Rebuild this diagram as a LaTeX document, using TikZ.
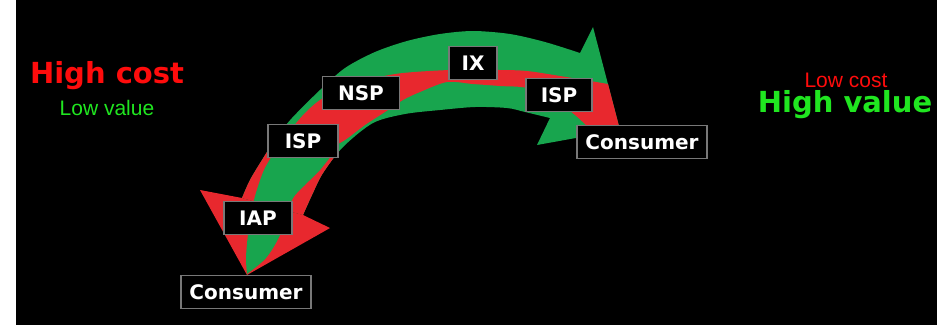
\documentclass[tikz,border=0pt]{standalone}
\usepackage{fontspec}
\setmainfont{Liberation Sans}
\newfontfamily\heavyfont{DejaVu Sans}
\usetikzlibrary{positioning}

\definecolor{arrowgreen}{RGB}{24,165,78}
\definecolor{arrowred}{RGB}{232,40,46}
\definecolor{textred}{RGB}{255,12,12}
\definecolor{textgreen}{RGB}{32,230,32}
\definecolor{boxgray}{RGB}{120,120,120}

\tikzset{
  hop/.style={draw=boxgray, line width=1.5pt, fill=black, text=white,
    font=\heavyfont\bfseries\fontsize{20}{22}\selectfont,
    minimum height=33pt, inner xsep=8pt, inner ysep=0pt},
  bigword/.style={anchor=base, font=\heavyfont\bfseries\fontsize{29}{30}\selectfont},
  smallword/.style={anchor=base, font=\fontsize{21}{22}\selectfont}
}

\begin{document}
\begin{tikzpicture}[x=1pt, y=-1pt]
  \fill[white] (0,0) rectangle (937,325);
  \fill[black] (16,0) rectangle (937,325);
  \useasboundingbox (0,0) rectangle (937,325);

  % green arrow, whole band with its head
  \fill[arrowgreen] plot[smooth] coordinates {(242,198) (250,180) (262,160) (276,138) (292,118) (320,90) (345,68) (375,52) (407,41) (440,34) (473,31) (510,34) (545,42) (580,53)}
        -- (593,27) -- (620,130) -- (537,145)
        -- plot[smooth] coordinates {(550,118) (525,112) (507,108) (475,107) (440,110) (405,114) (373,123) (343,147) (323,173) (312,195) (303,215)} -- cycle;

  % red arrow, lower part with its head
  \begin{scope}
    \clip (200,98) -- (420,183) -- (420,330) -- (100,330) -- (100,98) -- cycle;
    \fill[arrowred] plot[smooth] coordinates {(242,198) (250,180) (262,160) (276,138) (292,118) (320,90) (345,68) (375,52) (407,41) (440,34) (473,31) (510,34) (545,42) (580,53)}
          -- plot[smooth] coordinates {(550,118) (525,112) (507,108) (475,107) (440,110) (405,114) (373,123) (343,147) (323,173) (312,195) (303,215)} -- cycle;
    \fill[arrowred] (242,198) -- (200,190) -- (247,275) -- (330,228) -- (303,215) -- cycle;
  \end{scope}

  % twist: green inside the red head, red inside the green band
  \fill[arrowgreen] plot[smooth] coordinates {(276,150) (264,170) (254,200) (248,235) (246,258) (247,274)}
        -- plot[smooth] coordinates {(247,274) (266,258) (280,235) (292,200) (305,185) (320,170) (334,152)} -- cycle;
  \fill[arrowred] plot[smooth] coordinates {(292,128) (305,113) (320,100) (345,86) (375,78) (403,73) (450,70) (500,70) (527,71) (560,76) (608,84)}
        -- (620,130)
        -- plot[smooth] coordinates {(588,127) (575,115) (555,100) (527,88) (500,86) (473,84) (447,82) (420,92) (403,100) (385,112) (365,125) (345,140) (330,148)} -- cycle;

  % hops
  \node[hop, minimum width=48pt] (ix) at (473,63) {IX};
  \node[hop, minimum width=77pt] (nsp) at (361,93) {NSP};
  \node[hop, minimum width=66pt] (ispright) at (559,95) {ISP};
  \node[hop, minimum width=70pt] (ispleft) at (303,141) {ISP};
  \node[hop, minimum width=130pt] (consumerright) at (642,142) {Consumer};
  \node[hop, minimum width=68pt] (iap) at (258,218) {IAP};
  \node[hop, minimum width=130pt] (consumerleft) at (246,292) {Consumer};

  % captions
  \node[bigword, text=textred] (highcost) at (107,83) {High cost};
  \node[smallword, text=textgreen] (lowvalue) at (107,115) {Low value};
  \node[smallword, text=textred] (lowcost) at (846,87) {Low cost};
  \node[bigword, text=textgreen] (highvalue) at (845,112) {High value};
\end{tikzpicture}
\end{document}
